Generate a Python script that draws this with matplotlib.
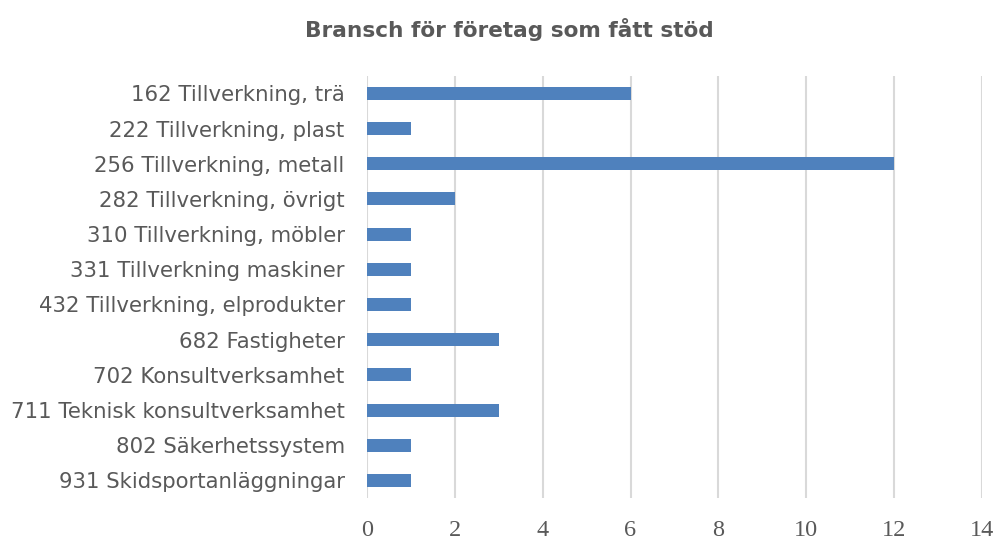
import matplotlib.pyplot as plt

categories = [
    "162 Tillverkning, trä",
    "222 Tillverkning, plast",
    "256 Tillverkning, metall",
    "282 Tillverkning, övrigt",
    "310 Tillverkning, möbler",
    "331 Tillverkning maskiner",
    "432 Tillverkning, elprodukter",
    "682 Fastigheter",
    "702 Konsultverksamhet",
    "711 Teknisk konsultverksamhet",
    "802 Säkerhetssystem",
    "931 Skidsportanläggningar",
]
counts = [6, 1, 12, 2, 1, 1, 1, 3, 1, 3, 1, 1]
x_ticks = [0, 2, 4, 6, 8, 10, 12, 14]

fig = plt.figure(figsize=(9.97, 5.41), dpi=100)
ax = fig.add_axes([0.368, 0.0795, 0.617, 0.7805])

pos = list(range(len(categories)))[::-1]
ax.barh(pos, counts, height=0.37, color="#4f81bd", zorder=3)

ax.set_xlim(0, 14)
ax.set_ylim(-0.5, len(categories) - 0.5)
ax.set_xticks(x_ticks)
ax.set_xticklabels([str(t) for t in x_ticks], family="Liberation Serif",
                   fontsize=17.5, color="#595959")
ax.set_yticks(pos)
ax.set_yticklabels(categories, family="DejaVu Sans", fontsize=15.3, color="#595959")
ax.tick_params(length=0)
ax.tick_params(axis="x", pad=16)
ax.tick_params(axis="y", pad=16)
ax.grid(axis="x", color="#d9d9d9", linewidth=1.5, zorder=0)
for s in ax.spines.values():
    s.set_visible(False)

fig.text(0.511, 0.945, "Bransch för företag som fått stöd", ha="center",
         va="center", fontsize=15.6, fontweight="bold", color="#595959",
         family="DejaVu Sans")

fig.savefig("out.png", dpi=100)
